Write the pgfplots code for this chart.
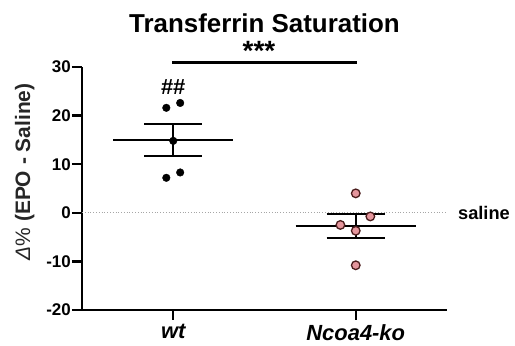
\documentclass[border=0pt]{standalone}
\usepackage{pgfplots}
\pgfplotsset{compat=1.18}
\usepackage{fontspec}
\setmainfont{Liberation Sans}
\definecolor{kofill}{HTML}{E4959C}
\definecolor{koedge}{HTML}{4A1C1C}
\begin{document}
\begin{tikzpicture}
\begin{axis}[
  scale only axis, width=365bp, height=243bp,
  xmin=0.5, xmax=2.5, ymin=-20, ymax=30,
  axis lines=left, axis line style={-, line width=2.8bp},
  clip=false,
  xtick={1,2}, xticklabels={wt,Ncoa4-ko},
  ytick={-20,-10,0,10,20,30},
  yticklabels={-20,-10,0,10,20,30},
  tick style={line width=2.4bp, black},
  major tick length=10bp,
  tick align=outside,
  xticklabel style={font=\fontsize{22}{22}\selectfont\bfseries\itshape, yshift=-1bp},
  yticklabel style={font=\fontsize{17}{17}\selectfont\bfseries, inner sep=1bp},
  ylabel={{\mdseries\itshape Δ\upshape\%} \bfseries (EPO - Saline)},
  ylabel style={at={(axis description cs:-0.157,0.568)}, anchor=center, font=\fontsize{21}{21}\selectfont, text=black!85},
]
% saline reference line
\addplot[gray!70, dotted, line width=0.8bp] coordinates {(0.5,0) (2.5,0)};
% wt mean and SEM
\addplot[black, line width=2.2bp] coordinates {(0.67,15.0) (1.33,15.0)};
\addplot[black, line width=2.2bp] coordinates {(0.84,18.2) (1.16,18.2)};
\addplot[black, line width=2.2bp] coordinates {(0.84,11.7) (1.16,11.7)};
\addplot[black, line width=2.2bp] coordinates {(1,11.7) (1,18.2)};
% Ncoa4-ko mean and SEM
\addplot[black, line width=2.2bp] coordinates {(1.67,-2.8) (2.33,-2.8)};
\addplot[black, line width=2.2bp] coordinates {(1.84,-0.3) (2.16,-0.3)};
\addplot[black, line width=2.2bp] coordinates {(1.84,-5.2) (2.16,-5.2)};
\addplot[black, line width=2.2bp] coordinates {(2,-5.2) (2,-0.3)};
% wt points
\addplot[only marks, mark=*, mark size=3.8bp, black] coordinates {
 (0.962,21.6) (1.038,22.6) (1.0,14.8) (0.962,7.2) (1.038,8.3)};
% ko points
\addplot[only marks, mark=*, mark size=4.3bp, mark options={fill=kofill, draw=koedge, line width=1.3bp}] coordinates {
 (2.0,4.0) (2.08,-0.75) (1.916,-2.5) (2.0,-3.7) (2.0,-10.8)};
% significance bar
\draw[line width=3bp] (axis cs:0.995,31.0) -- (axis cs:2.005,31.0);
\node[font=\fontsize{28}{28}\selectfont\bfseries] at (axis cs:1.47,33.3) {***};
\node[font=\fontsize{22}{22}\selectfont\bfseries] at (axis cs:1.0,25.8) {\#\#};
\node[font=\fontsize{18.3}{18.3}\selectfont\bfseries, anchor=west, inner sep=0pt] at (axis cs:2.56,0) {saline};
\node[font=\fontsize{26}{26}\selectfont\bfseries] at ([yshift=44bp]rel axis cs:0.5,1) {Transferrin Saturation};
\end{axis}
\pgfresetboundingbox
\path[use as bounding box] ([xshift=-82bp,yshift=-36bp]current axis.south west) rectangle ([xshift=68bp,yshift=67bp]current axis.north east);
\end{tikzpicture}
\end{document}
